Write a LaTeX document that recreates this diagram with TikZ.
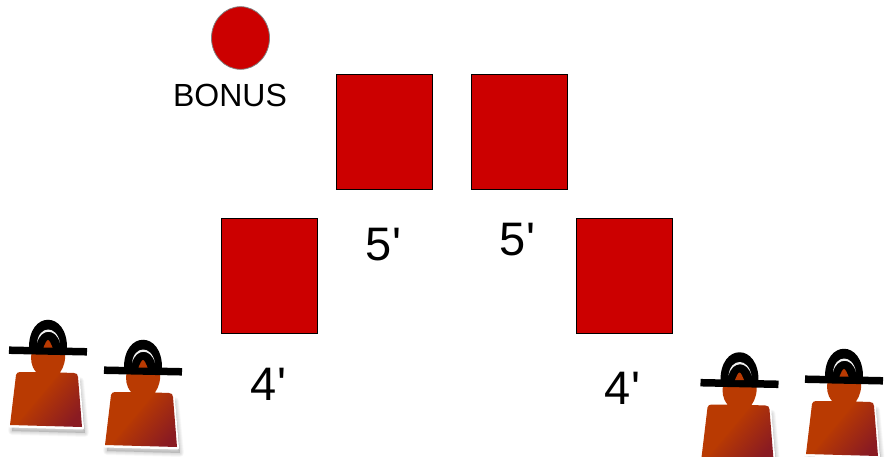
\documentclass[tikz,border=0pt]{standalone}
\usepackage{fontspec}
\setmainfont{Liberation Sans}
\newfontfamily\plainfont{Liberation Sans}
\usepackage{tikz}
\definecolor{pred}{HTML}{CC0000}
\definecolor{porange}{HTML}{B93A02}
\definecolor{pdark}{HTML}{8A1B22}
\pgfdeclarehorizontalshading{persongrad}{100bp}{color(0bp)=(porange); color(49.5bp)=(porange); color(50.5bp)=(porange!92!pdark); color(78bp)=(pdark); color(100bp)=(pdark)}
\tikzset{
  x=1pt,y=-1pt,
  seat/.style={draw=black,line width=0.9pt,fill=pred,minimum width=96pt,minimum height=115pt,inner sep=0pt},
  dist/.style={inner sep=0pt,font=\plainfont\fontsize{47}{47}\selectfont},
  person/.pic={
    % soft shadow
    \foreach \g in {1,2,...,8}{
      \fill[black,opacity=.02,line join=round,line width=\g pt,draw=black,draw opacity=.02]
        (-30,30) -- (32,30) -- (37,82) -- (-36,80) -- cycle;
    }
    % white outline
    \draw[white,fill=white,line width=3pt,line join=round]
      (-32,22) -- (30,23) -- (34.5,77) -- (-38,75) -- cycle;
    \fill[white] (1.5,8) ellipse (19 and 18);
    % body and head
    \path[shading=persongrad,shading angle=-40]
      (-38,74) -- (-32,24) .. controls (-31.5,22) and (-30,21) .. (-28,21)
      -- (-12,21) .. controls (-17,15) and (-18,8) .. (-16,0) -- (17,0)
      .. controls (18,8) and (16,16) .. (12,21.5)
      -- (26,22) .. controls (28.5,22) and (30,23.5) .. (30,26) -- (34,76) -- cycle;
    % hat
    \fill[black] (-19,-2) .. controls (-20,-41) and (20,-41) .. (19,-2) -- cycle;
    \draw[black,line width=7.5pt] (-39,-0.8) -- (39,0.8);
    \fill[white!88!gray] (-11,-8) .. controls (-9,-26) and (9,-26) .. (12,-8)
      .. controls (8,-23) and (-7,-23) .. (-11,-8) -- cycle;
    \fill[porange] (-4.5,-3.5) .. controls (-3,-7) and (-1.5,-11) .. (0,-11)
      .. controls (1.5,-11) and (3,-7) .. (4.5,-3.5) -- cycle;
  }
}
\begin{document}
\begin{tikzpicture}
\useasboundingbox (0,0) rectangle (895,457);
\clip (0,0) rectangle (895,457);
\node[seat] (seatA) at (384.5,131.5) {};
\node[seat] (seatB) at (519,131.5) {};
\node[seat] (seatC) at (269,275.5) {};
\node[seat] (seatD) at (624,275.5) {};
\node[draw=gray,line width=0.8pt,fill=pred,circle,inner sep=0pt,minimum size=58pt,yscale=1.08] (bonus) at (240.5,38) {};
\node[inner sep=0pt,font=\fontsize{32}{32}\selectfont] (bonustext) at (230,95) {BONUS};
\node[dist] (d1) at (383.5,245) {5'};
\node[dist] (d2) at (517.5,240) {5'};
\node[dist] (d3) at (268.5,384) {4'};
\node[dist] (d4) at (622.5,388) {4'};
\pic (p1) at (48,351) {person};
\pic (p2) at (143,371) {person};
\pic (p3) at (739.5,383.5) {person};
\pic (p4) at (844,380) {person};
\end{tikzpicture}
\end{document}
